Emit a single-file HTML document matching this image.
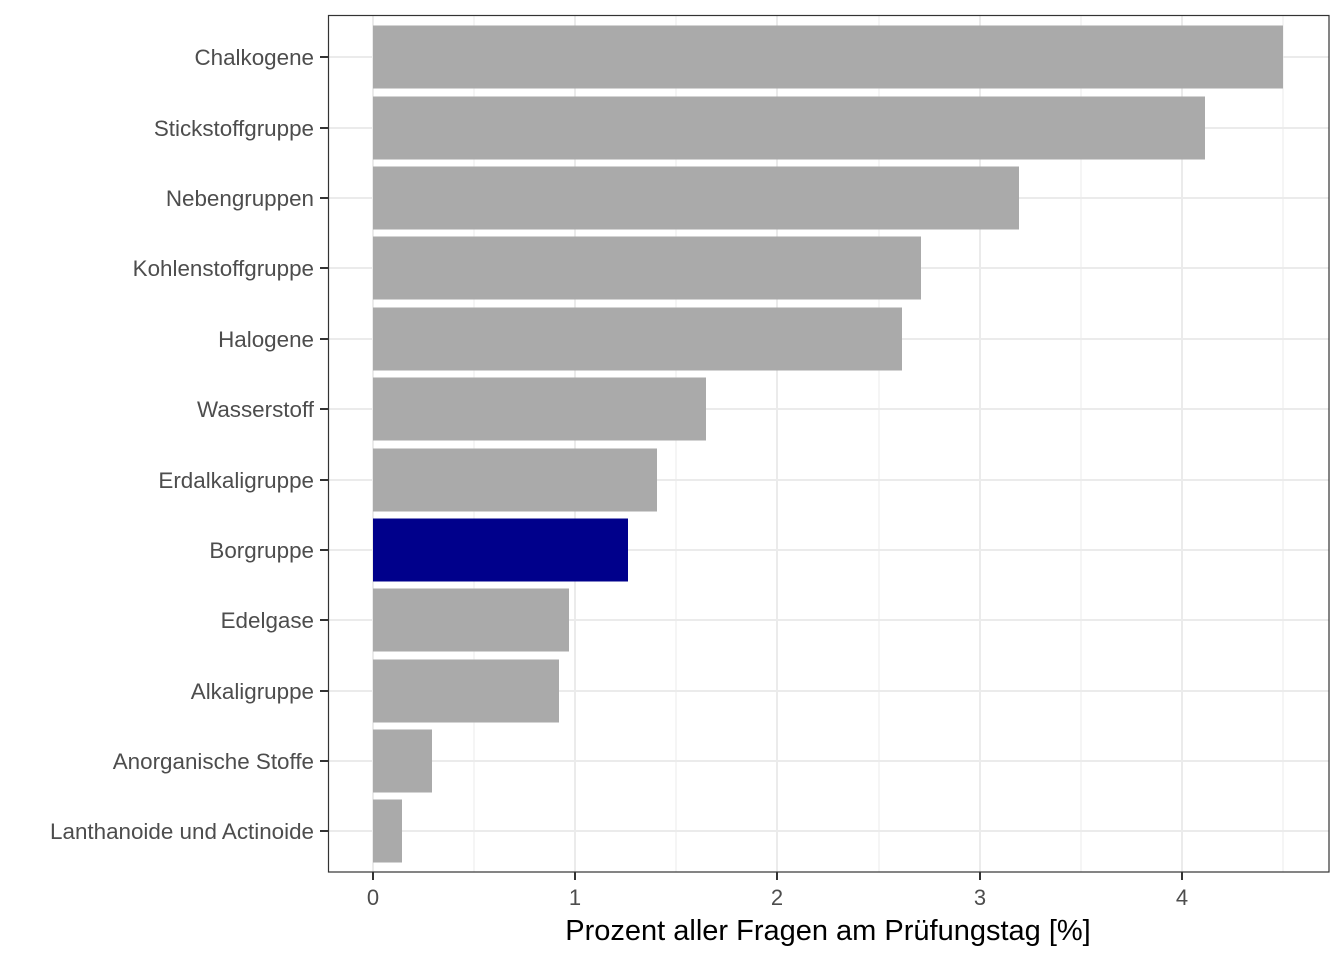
<!DOCTYPE html>
<html><head><meta charset="utf-8"><style>body{margin:0;background:#fff}</style></head><body>
<svg width="1344" height="960" xmlns="http://www.w3.org/2000/svg" font-family="Liberation Sans, Arial, sans-serif">
<rect width="1344" height="960" fill="#fff"/>
<g stroke="#ebebeb" stroke-width="1">
<line x1="474" y1="15" x2="474" y2="872"/><line x1="676" y1="15" x2="676" y2="872"/><line x1="879" y1="15" x2="879" y2="872"/><line x1="1081" y1="15" x2="1081" y2="872"/><line x1="1283" y1="15" x2="1283" y2="872"/>
</g>
<g stroke="#ebebeb" stroke-width="2">
<line x1="373" y1="15" x2="373" y2="872"/><line x1="575" y1="15" x2="575" y2="872"/><line x1="777" y1="15" x2="777" y2="872"/><line x1="980" y1="15" x2="980" y2="872"/><line x1="1182" y1="15" x2="1182" y2="872"/>
<line x1="328" y1="57" x2="1329" y2="57"/><line x1="328" y1="128" x2="1329" y2="128"/><line x1="328" y1="198" x2="1329" y2="198"/><line x1="328" y1="268" x2="1329" y2="268"/><line x1="328" y1="339" x2="1329" y2="339"/><line x1="328" y1="409" x2="1329" y2="409"/><line x1="328" y1="480" x2="1329" y2="480"/><line x1="328" y1="550" x2="1329" y2="550"/><line x1="328" y1="620" x2="1329" y2="620"/><line x1="328" y1="691" x2="1329" y2="691"/><line x1="328" y1="761" x2="1329" y2="761"/><line x1="328" y1="831" x2="1329" y2="831"/>
</g>
<g fill="#aaaaaa">
<rect x="373" y="25.5" width="910" height="63"/>
<rect x="373" y="96.5" width="832" height="63"/>
<rect x="373" y="166.5" width="646" height="63"/>
<rect x="373" y="236.5" width="548" height="63"/>
<rect x="373" y="307.5" width="529" height="63"/>
<rect x="373" y="377.5" width="333" height="63"/>
<rect x="373" y="448.5" width="284" height="63"/>
<rect x="373" y="518.5" width="255" height="63" fill="#00008b"/>
<rect x="373" y="588.5" width="196" height="63"/>
<rect x="373" y="659.5" width="186" height="63"/>
<rect x="373" y="729.5" width="59" height="63"/>
<rect x="373" y="799.5" width="29" height="63"/>
</g>
<rect x="328.5" y="15.5" width="1000.5" height="856.5" fill="none" stroke="#333" stroke-width="1.2"/>
<g stroke="#333" stroke-width="2">
<line x1="320" y1="57" x2="328" y2="57"/><line x1="320" y1="128" x2="328" y2="128"/><line x1="320" y1="198" x2="328" y2="198"/><line x1="320" y1="268" x2="328" y2="268"/><line x1="320" y1="339" x2="328" y2="339"/><line x1="320" y1="409" x2="328" y2="409"/><line x1="320" y1="480" x2="328" y2="480"/><line x1="320" y1="550" x2="328" y2="550"/><line x1="320" y1="620" x2="328" y2="620"/><line x1="320" y1="691" x2="328" y2="691"/><line x1="320" y1="761" x2="328" y2="761"/><line x1="320" y1="831" x2="328" y2="831"/>
<line x1="373" y1="872" x2="373" y2="880"/><line x1="575" y1="872" x2="575" y2="880"/><line x1="777" y1="872" x2="777" y2="880"/><line x1="980" y1="872" x2="980" y2="880"/><line x1="1182" y1="872" x2="1182" y2="880"/>
</g>
<g fill="#4d4d4d" font-size="22.4" text-anchor="end">
<text x="314" y="65">Chalkogene</text><text x="314" y="136">Stickstoffgruppe</text><text x="314" y="206">Nebengruppen</text><text x="314" y="276">Kohlenstoffgruppe</text><text x="314" y="347">Halogene</text><text x="314" y="417">Wasserstoff</text><text x="314" y="488">Erdalkaligruppe</text><text x="314" y="558">Borgruppe</text><text x="314" y="628">Edelgase</text><text x="314" y="699">Alkaligruppe</text><text x="314" y="769">Anorganische Stoffe</text><text x="314" y="839">Lanthanoide und Actinoide</text>
</g>
<g fill="#4d4d4d" font-size="22" text-anchor="middle">
<text x="373" y="905">0</text><text x="575" y="905">1</text><text x="777" y="905">2</text><text x="980" y="905">3</text><text x="1182" y="905">4</text>
</g>
<text x="828" y="940" font-size="29" text-anchor="middle" fill="#000">Prozent aller Fragen am Prüfungstag [%]</text>
</svg>
</body></html>
